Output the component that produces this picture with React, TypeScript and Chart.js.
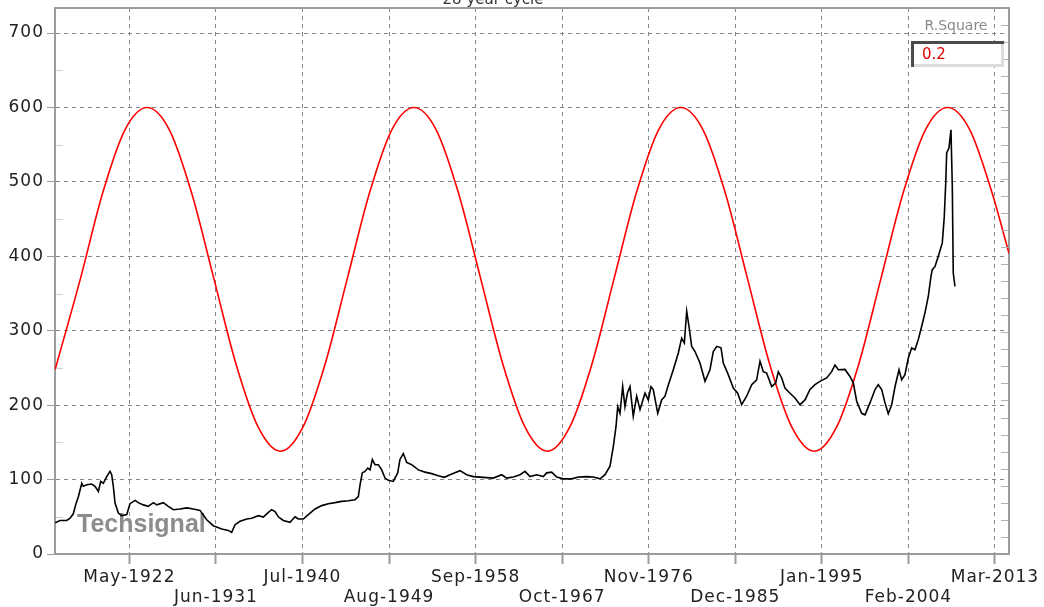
import { useEffect, useRef } from 'react';
import { Chart, registerables } from 'chart.js';

Chart.register(...registerables);

const titleText = '28 year cycle';
const watermarkText = 'Techsignal';
const rSquareLabel = 'R.Square';
const rSquareValue = '0.2';

const xTickLabels = [
  'May-1922', 'Jun-1931', 'Jul-1940', 'Aug-1949', 'Sep-1958', 'Oct-1967',
  'Nov-1976', 'Dec-1985', 'Jan-1995', 'Feb-2004', 'Mar-2013',
];
const yTickValues = [0, 100, 200, 300, 400, 500, 600, 700];
const yMinorTickValues = [50, 150, 250, 350, 450, 550, 650];

const priceYears = [
  1914.55, 1915.06, 1915.76, 1916.11, 1916.45, 1916.74, 1916.98, 1917.34, 1917.5, 1917.86,
  1918.38, 1918.73, 1919.08, 1919.33, 1919.6, 1919.96, 1920.3, 1920.48, 1920.65, 1920.83,
  1921.18, 1921.53, 1922.06, 1922.4, 1922.93, 1923.27, 1923.8, 1924.32, 1924.85, 1925.21,
  1925.9, 1926.42, 1926.95, 1927.65, 1928.35, 1929.05, 1929.75, 1930.45, 1931.14, 1932.03,
  1932.72, 1933.07, 1933.42, 1933.95, 1934.65, 1935.17, 1935.87, 1936.39, 1936.92, 1937.27,
  1937.62, 1937.96, 1938.49, 1939.19, 1939.72, 1940.06, 1940.59, 1941.11, 1941.82, 1942.52,
  1943.21, 1943.91, 1944.62, 1945.31, 1946.01, 1946.36, 1946.54, 1946.78, 1947.06, 1947.35,
  1947.59, 1947.83, 1948.11, 1948.46, 1948.81, 1949.16, 1949.51, 1950.03, 1950.49, 1950.73,
  1951.08, 1951.44, 1951.96, 1952.66, 1953.36, 1954.06, 1954.75, 1955.38, 1955.98, 1957.03,
  1957.73, 1958.43, 1959.48, 1960.52, 1961.41, 1961.93, 1962.62, 1963.33, 1963.85, 1964.38,
  1965.08, 1965.77, 1966.13, 1966.65, 1967.18, 1967.87, 1968.75, 1969.44, 1970.33, 1971.02,
  1971.72, 1972.25, 1972.77, 1973.12, 1973.4, 1973.58, 1973.82, 1974.1, 1974.34, 1974.59,
  1974.87, 1975.21, 1975.57, 1975.92, 1976.44, 1976.79, 1977.07, 1977.31, 1977.78, 1978.19,
  1978.54, 1978.89, 1979.41, 1979.94, 1980.29, 1980.57, 1980.82, 1981.06, 1981.34, 1981.69,
  1982.21, 1982.74, 1983.26, 1983.61, 1983.97, 1984.42, 1984.66, 1985.18, 1985.71, 1986.17,
  1986.59, 1987.11, 1987.64, 1988.16, 1988.51, 1988.86, 1989.21, 1989.74, 1990.16, 1990.43,
  1990.79, 1991.13, 1991.66, 1992.18, 1992.71, 1993.23, 1993.76, 1994.28, 1994.8, 1995.51,
  1996.03, 1996.38, 1996.73, 1997.43, 1997.95, 1998.3, 1998.66, 1999.18, 1999.53, 2000.05,
  2000.58, 2000.92, 2001.28, 2001.63, 2001.97, 2002.33, 2002.68, 2003.1, 2003.38, 2003.72,
  2004.07, 2004.43, 2004.77, 2005.12, 2005.48, 2005.82, 2006.17, 2006.45, 2006.59, 2006.87,
  2007.22, 2007.64, 2007.85, 2008.0, 2008.1, 2008.34, 2008.55, 2008.69, 2008.79, 2008.97,
];
const priceValues = [
  42, 45, 45, 48, 54, 68, 77, 95, 91, 93,
  94, 91, 84, 97.5, 95, 104, 111, 106.5, 91, 68.5,
  55, 51.5, 53, 67.6, 72, 69, 66, 64, 69, 66,
  69, 64, 59.5, 60.5, 62, 60.5, 58.6, 46, 38, 33.6,
  31.7, 29, 39.4, 44, 47, 48, 51.5, 49.7, 56, 59.5,
  57, 50, 45, 42.5, 50, 47, 47, 53, 60.5, 65,
  67.6, 69, 70.7, 71.6, 73, 77, 93, 109, 111, 115.5,
  113, 127, 120, 120, 113, 102, 99, 97.5, 109, 127,
  135, 123, 120, 113, 110, 108, 105, 103, 106.5, 112,
  106.5, 104, 103, 102, 106.5, 102, 103.5, 106.5, 111, 104,
  106.5, 104, 109, 110, 103.5, 101, 101, 103.5, 104, 103.5,
  101, 106.5, 118, 144.6, 171, 198, 189, 225, 198, 216,
  225, 185, 212, 194, 216, 207, 225, 221, 189, 207,
  212, 227, 247.6, 270, 290, 283.5, 326, 306, 279, 272,
  256.6, 232, 247.6, 272, 279, 277, 256.6, 241, 223, 216,
  200.6, 212, 227.5, 234, 259, 245, 243, 225, 230, 245,
  236.5, 223, 216, 209.6, 200.6, 207, 221, 227.5, 232, 236.5,
  245, 254, 247.6, 248, 238.6, 230, 205, 189, 187, 203,
  221, 227.5, 221, 203, 188.5, 200.6, 225, 247.6, 234, 241,
  263, 277, 274.5, 288, 306, 324, 346, 373, 382, 386,
  400, 418, 453.6, 498.5, 539, 545.5, 570, 494, 377.5, 359.5,
];

const cycleYears = [
  1914.55, 1917.2, 1919.53, 1921.87, 1924.2, 1926.53, 1928.87, 1931.2, 1933.53, 1935.87,
  1938.2, 1940.53, 1942.87, 1945.2, 1947.53, 1949.87, 1952.2, 1954.53, 1956.87, 1959.2,
  1961.53, 1963.87, 1966.2, 1968.53, 1970.87, 1973.2, 1975.53, 1977.87, 1980.2, 1982.53,
  1984.87, 1987.2, 1989.53, 1991.87, 1994.2, 1996.53, 1998.87, 2001.2, 2003.53, 2005.87,
  2008.2, 2010.53, 2012.87, 2014.64,
];
const cycleValues = [
  248, 370, 485, 570, 600, 570, 485, 370, 255, 170,
  138, 170, 255, 370, 485, 570, 600, 570, 485, 370,
  255, 170, 138, 170, 255, 370, 485, 570, 600, 570,
  485, 370, 255, 170, 138, 170, 255, 370, 485, 570,
  600, 570, 485, 404,
];

const MONTHS = ['Jan', 'Feb', 'Mar', 'Apr', 'May', 'Jun', 'Jul', 'Aug', 'Sep', 'Oct', 'Nov', 'Dec'];
const labelToYear = (label: string) => {
  const [m, y] = label.split('-');
  return Number(y) + MONTHS.indexOf(m) / 12;
};
const xTickValues = xTickLabels.map(labelToYear);

const X_MIN = 1914.53;
const X_MAX = 2014.64;
const Y_MAX = 733.6;
const AXIS_GRAY = '#9c9c9c';
const GRID_GRAY = '#858585';
const TICK_FONT = { family: '"DejaVu Sans", Verdana, sans-serif', size: 17 };

const zeroPadding = (s: any) => {
  s.paddingTop = 0;
  s.paddingBottom = 0;
  s.paddingLeft = 0;
  s.paddingRight = 0;
};

const decorPlugin = {
  id: 'decor',
  beforeDraw(chart: any) {
    const ctx = chart.ctx;
    if ('letterSpacing' in ctx) ctx.letterSpacing = '1px';
  },
  beforeDatasetsDraw(chart: any) {
    const ctx = chart.ctx;
    ctx.save();
    if ('letterSpacing' in ctx) ctx.letterSpacing = '0px';
    ctx.font = 'bold 25px "Liberation Sans", Arial, sans-serif';
    ctx.fillStyle = '#8c8c8c';
    ctx.textAlign = 'left';
    ctx.textBaseline = 'alphabetic';
    ctx.fillText(watermarkText, 77, 532);
    ctx.restore();
  },
  afterDraw(chart: any) {
    const ctx = chart.ctx;
    const area = chart.chartArea;
    const y = chart.scales.y;
    const y2 = chart.scales.y2;
    if ('letterSpacing' in ctx) ctx.letterSpacing = '0px';
    ctx.save();
    // top frame line
    ctx.strokeStyle = AXIS_GRAY;
    ctx.lineWidth = 2;
    ctx.beginPath();
    ctx.moveTo(area.left, area.top);
    ctx.lineTo(area.right, area.top);
    ctx.stroke();
    // left minor ticks (inside)
    ctx.strokeStyle = '#cfcfcf';
    ctx.lineWidth = 1;
    yMinorTickValues.forEach((v) => {
      const py = Math.round(y.getPixelForValue(v)) + 0.5;
      ctx.beginPath();
      ctx.moveTo(area.left + 1, py);
      ctx.lineTo(area.left + 8, py);
      ctx.stroke();
    });
    // right axis ticks (inside)
    ctx.strokeStyle = '#b4b4b4';
    for (let v = 1; v < 32; v++) {
      const py = Math.round(y2.getPixelForValue(v)) + 0.5;
      ctx.beginPath();
      ctx.moveTo(area.right - 8, py);
      ctx.lineTo(area.right - 1, py);
      ctx.stroke();
    }
    // title (partially cut off at top)
    ctx.font = '15px "DejaVu Sans", Verdana, sans-serif';
    ctx.fillStyle = '#333333';
    ctx.textAlign = 'center';
    ctx.textBaseline = 'alphabetic';
    ctx.fillText(titleText, 493, 4);
    // R.Square box
    ctx.font = '14px "DejaVu Sans", Verdana, sans-serif';
    ctx.fillStyle = '#8a8a8a';
    ctx.textAlign = 'center';
    ctx.textBaseline = 'middle';
    ctx.fillText(rSquareLabel, 956, 26);
    const bx = 911, by = 41, bw = 93, bh = 26;
    ctx.fillStyle = '#ffffff';
    ctx.fillRect(bx, by, bw, bh);
    ctx.fillStyle = '#dcdcdc';
    ctx.fillRect(bx + bw - 3, by, 3, bh);
    ctx.fillRect(bx, by + bh - 3, bw, 3);
    ctx.fillStyle = '#4a4a4a';
    ctx.fillRect(bx, by, bw, 3);
    ctx.fillRect(bx, by, 3, bh);
    ctx.font = '15px "DejaVu Sans", Verdana, sans-serif';
    ctx.fillStyle = '#e00000';
    ctx.textAlign = 'left';
    ctx.fillText(rSquareValue, 922, 55);
    ctx.restore();
  },
};

export default function App() {
  const canvasRef = useRef<HTMLCanvasElement | null>(null);

  useEffect(() => {
    document.body.style.margin = '0';
    const canvas = canvasRef.current;
    if (!canvas) return;
    const chart = new Chart(canvas, {
      type: 'line',
      data: {
        datasets: [
          {
            label: 'Price',
            data: priceYears.map((x, i) => ({ x, y: priceValues[i] })),
            borderColor: '#000000',
            borderWidth: 1.6,
            pointRadius: 0,
            tension: 0,
            fill: false,
          },
          {
            label: 'Cycle',
            data: cycleYears.map((x, i) => ({ x, y: cycleValues[i] })),
            borderColor: '#ff0000',
            borderWidth: 1.6,
            pointRadius: 0,
            cubicInterpolationMode: 'monotone',
            fill: false,
          },
        ],
      },
      options: {
        responsive: false,
        animation: false,
        devicePixelRatio: 1,
        layout: { padding: { top: 8, left: 0, right: 0, bottom: 0 } },
        plugins: {
          legend: { display: false },
          tooltip: { enabled: false },
          title: { display: false },
        },
        scales: {
          x: {
            type: 'linear',
            min: X_MIN,
            max: X_MAX,
            afterBuildTicks: (s: any) => {
              s.ticks = xTickValues.map((value) => ({ value }));
            },
            afterFit: (s: any) => {
              s.height = 53;
              zeroPadding(s);
            },
            ticks: {
              autoSkip: false,
              maxRotation: 0,
              minRotation: 0,
              padding: 3,
              color: '#222222',
              font: TICK_FONT,
              callback: (_v: any, i: number) => (i % 2 === 0 ? xTickLabels[i] : ['', xTickLabels[i]]),
            },
            grid: {
              color: GRID_GRAY,
              lineWidth: 1,
              drawTicks: true,
              tickLength: 10,
              tickColor: AXIS_GRAY,
              tickWidth: 2,
              tickBorderDash: [],
            },
            border: { display: true, color: AXIS_GRAY, width: 2, dash: [4, 4] },
          },
          y: {
            type: 'linear',
            position: 'left',
            min: 0,
            max: Y_MAX,
            afterBuildTicks: (s: any) => {
              s.ticks = yTickValues.map((value) => ({ value }));
            },
            afterFit: (s: any) => {
              s.width = 55;
              zeroPadding(s);
            },
            ticks: {
              padding: 3,
              color: '#222222',
              font: TICK_FONT,
              callback: (v: any) => String(v),
            },
            grid: {
              color: GRID_GRAY,
              lineWidth: 1,
              drawTicks: true,
              tickLength: 8,
              tickColor: AXIS_GRAY,
              tickWidth: 1,
              tickBorderDash: [],
            },
            border: { display: true, color: AXIS_GRAY, width: 2, dash: [4, 4] },
          },
          y2: {
            type: 'linear',
            position: 'right',
            min: 0,
            max: 32,
            ticks: { display: false },
            grid: { display: false, drawTicks: false },
            border: { display: true, color: AXIS_GRAY, width: 2 },
            afterFit: (s: any) => {
              s.width = 35;
              zeroPadding(s);
            },
          },
        },
      } as any,
      plugins: [decorPlugin],
    });
    return () => chart.destroy();
  }, []);

  return <canvas ref={canvasRef} width={1044} height={607} style={{ display: 'block' }} />;
}
